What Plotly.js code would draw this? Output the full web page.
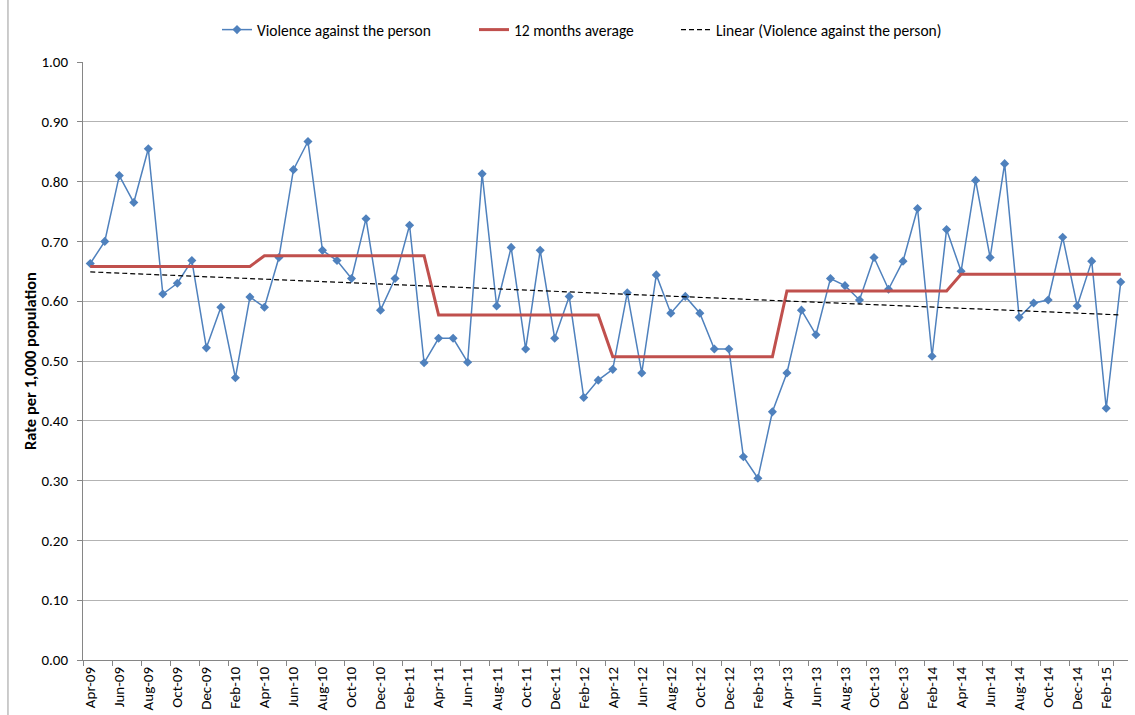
<!DOCTYPE html>
<html>
<head>
<meta charset="utf-8">
<script src="https://cdn.plot.ly/plotly-3.0.1.min.js"></script>
<style>html,body{margin:0;padding:0;background:#fff;}#chart{width:1135px;height:715px;}</style>
</head>
<body>
<div id="chart"></div>
<script>
const months = ["Apr-09","May-09","Jun-09","Jul-09","Aug-09","Sep-09","Oct-09","Nov-09","Dec-09","Jan-10","Feb-10","Mar-10",
"Apr-10","May-10","Jun-10","Jul-10","Aug-10","Sep-10","Oct-10","Nov-10","Dec-10","Jan-11","Feb-11","Mar-11",
"Apr-11","May-11","Jun-11","Jul-11","Aug-11","Sep-11","Oct-11","Nov-11","Dec-11","Jan-12","Feb-12","Mar-12",
"Apr-12","May-12","Jun-12","Jul-12","Aug-12","Sep-12","Oct-12","Nov-12","Dec-12","Jan-13","Feb-13","Mar-13",
"Apr-13","May-13","Jun-13","Jul-13","Aug-13","Sep-13","Oct-13","Nov-13","Dec-13","Jan-14","Feb-14","Mar-14",
"Apr-14","May-14","Jun-14","Jul-14","Aug-14","Sep-14","Oct-14","Nov-14","Dec-14","Jan-15","Feb-15","Mar-15"];

const violence = [0.663,0.700,0.810,0.765,0.855,0.612,0.630,0.668,0.522,0.590,0.472,0.607,
0.590,0.673,0.820,0.867,0.685,0.668,0.638,0.738,0.585,0.638,0.727,0.497,
0.538,0.538,0.498,0.813,0.592,0.690,0.520,0.685,0.538,0.608,0.439,0.468,
0.486,0.614,0.480,0.644,0.580,0.608,0.580,0.520,0.520,0.340,0.304,0.415,
0.480,0.585,0.544,0.638,0.626,0.602,0.673,0.620,0.667,0.755,0.508,0.720,
0.650,0.802,0.673,0.830,0.573,0.597,0.602,0.707,0.592,0.667,0.421,0.632];

const avg12 = [0.658,0.658,0.658,0.658,0.658,0.658,0.658,0.658,0.658,0.658,0.658,0.658,
0.676,0.676,0.676,0.676,0.676,0.676,0.676,0.676,0.676,0.676,0.676,0.676,
0.577,0.577,0.577,0.577,0.577,0.577,0.577,0.577,0.577,0.577,0.577,0.577,
0.507,0.507,0.507,0.507,0.507,0.507,0.507,0.507,0.507,0.507,0.507,0.507,
0.617,0.617,0.617,0.617,0.617,0.617,0.617,0.617,0.617,0.617,0.617,0.617,
0.645,0.645,0.645,0.645,0.645,0.645,0.645,0.645,0.645,0.645,0.645,0.645];

const trendX = ["Apr-09","Mar-15"];
const trendY = [0.649,0.577];

const tickLabels = months.filter((m,i)=>i%2===0);

const font = "Carlito, 'Liberation Sans Narrow', 'Liberation Sans', Arial, sans-serif";

const traces = [
  {x: months, y: violence, name: "Violence against the person", type: "scatter", mode: "lines+markers",
   line: {color: "#4F81BD", width: 1.5}, marker: {symbol: "diamond", size: 7, color: "#4F81BD"}, legend: "legend"},
  {x: months, y: avg12, name: "12 months average", type: "scatter", mode: "lines",
   line: {color: "#C0504D", width: 3}, legend: "legend2"},
  {x: trendX, y: trendY, name: "Linear (Violence against the person)", type: "scatter", mode: "lines",
   line: {color: "#000000", width: 1.2, dash: "5px,3px"}, legend: "legend3"}
];

function legendAt(xpx) {
  return {orientation: "h", x: xpx / 1135, xanchor: "left", xref: "container",
          y: 0.958, yanchor: "middle", yref: "container", bgcolor: "rgba(0,0,0,0)",
          font: {family: font, size: 15.5, color: "#000"}};
}

const layout = {
  width: 1135, height: 715,
  margin: {l: 83, r: 7, t: 62, b: 55},
  paper_bgcolor: "#fff", plot_bgcolor: "#fff",
  font: {family: font, size: 15, color: "#000"},
  showlegend: true,
  legend: legendAt(217),
  legend2: legendAt(474),
  legend3: legendAt(676),
  shapes: [{type: "line", xref: "paper", yref: "paper", x0: -0.0718, x1: -0.0718, y0: -0.095, y1: 1.11,
            line: {color: "#9a9a9a", width: 1}}],
  xaxis: {type: "category", categoryorder: "array", categoryarray: months,
          tickmode: "array", tickvals: tickLabels, ticktext: tickLabels,
          tickangle: -90, ticks: "outside", ticklen: 5, tickcolor: "#868686",
          tickson: "boundaries",
          showline: true, linecolor: "#868686", linewidth: 1, showgrid: false,
          range: [-0.5, 71.5], tickfont: {family: font, size: 15, color: "#000"}},
  yaxis: {range: [0, 1], dtick: 0.1, tick0: 0, tickformat: ".2f",
          showgrid: true, gridcolor: "#B3B3B3", gridwidth: 1,
          showline: true, linecolor: "#868686", linewidth: 1,
          ticks: "outside", ticklen: 5, tickcolor: "#868686", zeroline: false,
          ticklabelstandoff: 6,
          tickfont: {family: font, size: 15, color: "#000"},
          title: {text: "<b>Rate per 1,000 population</b>", font: {family: font, size: 16.5, color: "#000"}, standoff: 0}}
};

Plotly.newPlot("chart", traces, layout, {displayModeBar: false, staticPlot: true});
</script>
</body>
</html>
